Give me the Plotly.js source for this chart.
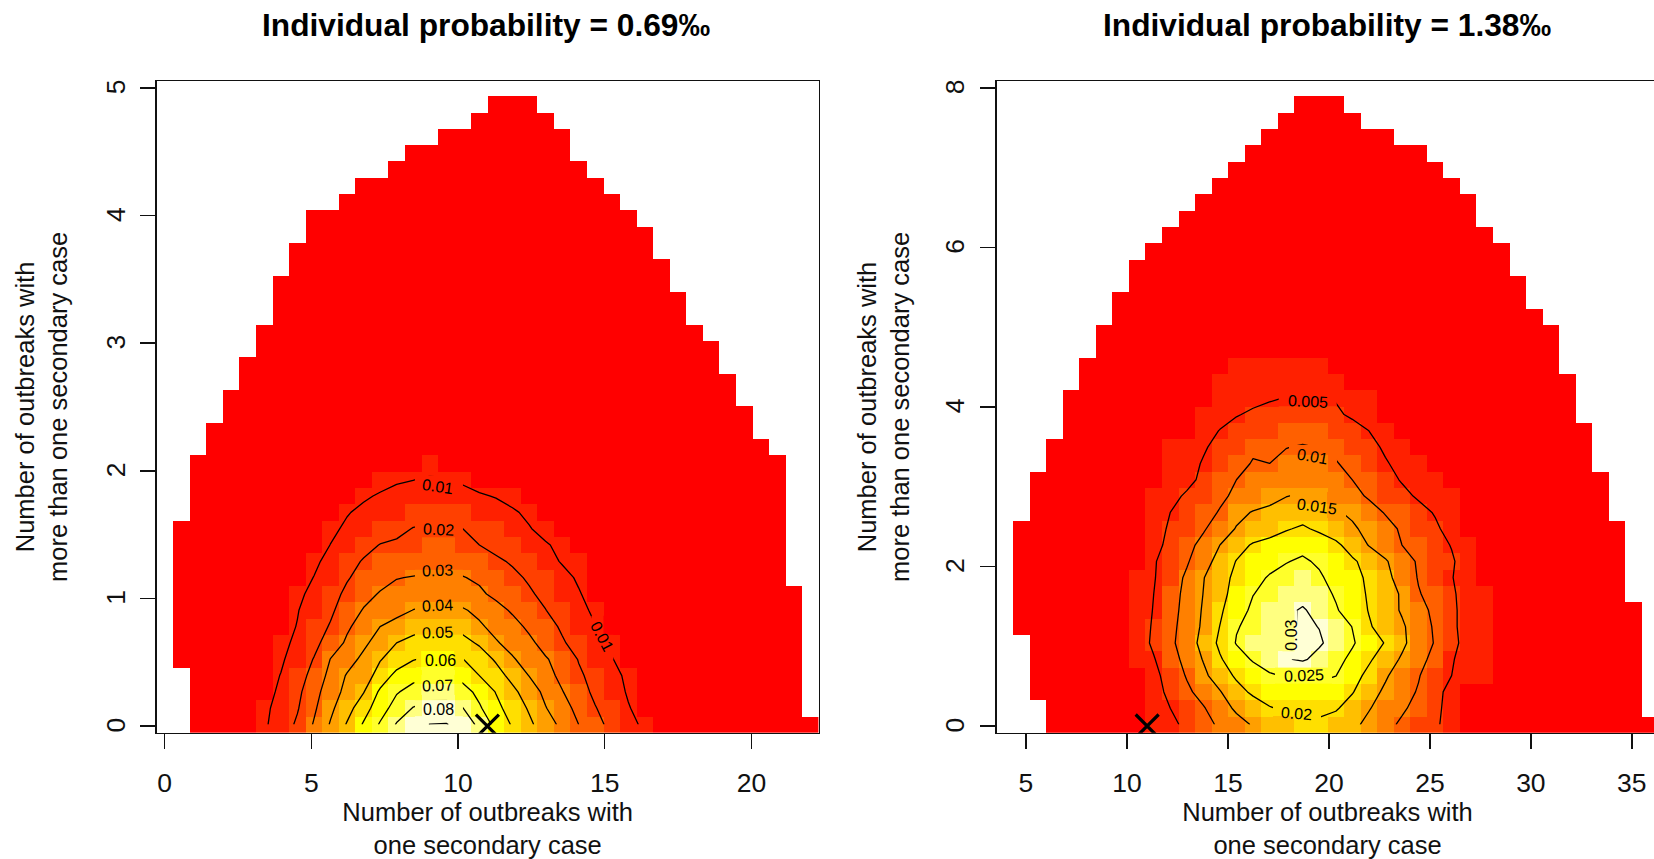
<!DOCTYPE html>
<html><head><meta charset="utf-8">
<script src="https://cdn.plot.ly/plotly-3.0.1.min.js"></script>
<style>html,body{margin:0;padding:0;background:#fff;overflow:hidden;width:1654px;height:859px}#p{width:1660px;height:859px}</style>
</head><body><div id="p"></div>
<script>
// Panel titles and axis text
const titleLeft = "Individual probability = 0.69‰";
const titleRight = "Individual probability = 1.38‰";
const xTitle = "Number of outbreaks with<br>one secondary case";
const yTitle = "Number of outbreaks with<br>more than one secondary case";
const heatColors = ["#FF0000","#FF2000","#FF4000","#FF6000","#FF8000","#FF9F00","#FFBF00","#FFDF00","#FFFF00","#FFFF2A","#FFFF80","#FFFFD5"];

// Grid of 40 x 40 cells: first edge and cell size
const leftGrid  = {x0:-0.273, dx:0.56408, y0:-0.052, dy:0.12786};
const rightGrid = {x0:3.54,   dx:0.8195,  y0:-0.084, dy:0.20457};
const centres = (o,d)=>Array.from({length:40},(_,i)=>o+(i+0.5)*d);

// Filled columns in each row (row 0 = bottom)
const leftFirst = [2,2,2,2,1,1,1,1,1,1,1,1,1,2,2,2,2,3,3,4,4,5,5,6,6,7,7,7,8,8,9,9,11,12,14,15,17,19,20];
const leftLast  = [39,38,38,38,38,38,38,38,38,37,37,37,37,37,37,37,37,36,35,35,34,34,33,33,32,31,31,30,30,29,29,28,27,26,25,24,24,23,22];
const rightFirst = [3,3,2,2,2,2,1,1,1,1,1,1,1,2,2,2,3,3,4,4,4,5,5,6,6,7,7,8,8,9,10,11,12,13,14,15,16,17,18];
const rightLast  = [39,38,38,38,38,38,38,38,37,37,37,37,37,36,36,36,35,35,35,34,34,34,33,33,33,32,31,31,30,30,29,28,28,27,26,25,23,21,20];

// Probability values (x 0.001) where they rise above the low background: [first column, values...]
const leftCore = [
[6,8.6,14.7,21.5,30.8,40.8,50.8,61,71,80.8,86,90.2,90.5,86.5,77.6,67,59,52,44.9,37.5,30,23,17.4,12.3,8.5,6],
[6,8,13.4,19.2,28.4,38,46.3,55.8,65.6,74.2,80.5,83,83,80.2,71.3,62.7,55.8,49,40.5,33.9,27.2,20.5,15.5,10.5,7,5],
[6,6.5,11.8,17.6,26.5,35.2,42.9,49.5,61.7,69.2,73.5,76.5,77,74,67.2,59.6,52.4,45.2,37.6,30.5,24,18,13.6,9.2,6.5],
[6,6,10.3,16,23,33,40.8,45,54,63,67,69,69,66.5,60,54,47,39.8,33.5,27.5,21.6,16.7,12.3,8.5,6],
[6,5.5,8.6,14.5,20.4,30.2,36,42.3,49.4,54.5,59.5,62,62,60.2,55,48.8,41,35.8,30.8,26.5,19.5,15,10.4,6.5],
[6,5,7.6,11.9,17.4,24.2,31.6,38,44.2,50,53,55.5,55.5,53,48.8,41,36.6,32,26.8,21,16.7,12.8,8.5,6],
[7,7.2,10.3,15.5,20.8,28.5,34.2,40,43.5,46.5,48.5,49,47,41.5,37,33,28.4,23.3,18.8,14.7,10.3,7.4],
[7,6.5,9.6,13.8,18.4,24.6,30.7,34,37,40.2,42,42,41,37.6,33,28.9,24.2,20.2,16.3,12.3,8.5,6.5],
[7,6,8,12.5,17,21.7,26.6,30.8,32.6,34.5,36,36,34.5,31.5,28,24.8,21.2,17.7,14.2,10.6,7,5.5],
[8,6.5,10.2,14.7,19.3,22.8,26.3,29.7,30.4,31,31,30.4,28.6,25.3,22,18.9,15.5,12.3,9,6.5],
[8,6,8.3,12.6,17,20.7,23,24.8,26,27,27.2,26,24,21.5,19,15.9,12.6,9.4,7.7,5],
[9,7,10.1,13.7,17.2,20.3,21.2,22,23,23,22,20,17.5,15.2,13,10.6,8.5,6.5],
[9,6.5,8.7,11,13.4,15.8,18,20.3,20.8,20.8,20,17.7,15.2,12.8,10.4,8,6.5],
[10,6.5,9.6,11.3,13,15,16.5,17.5,17.5,16,14.6,12.7,10.8,8.8,7],
[11,7,9.2,10.6,11.8,13,14,14,12.5,10.8,9.6,8,7],
[12,7,8,9.3,9.9,10.6,10.4,8.8,7],
[15,7,7.8,7]
];
// Probability values (x 0.0001)
const rightCore = [
[8,22,30,38,61,85.5,107,133,154,172,185,190,190,178,161,138,114,92,75,58,30,22],
[8,20,30,50,73,96,129,158,177,197,207,213,213,205,180,153,130,107,85,63,30,22],
[8,20,36,59,90,119,147,184,208,222,233,238,236,225,203,170,141,118,96,69,30,22],
[8,20,38,68,104,139,176,207,225,244,254,261,259,251,219,187,156,125,103,72,50,35,28],
[8,27,47,80,115,153,195,228,255,277,297,305,288,265,239,207,175,144,115,86,53,35,28],
[8,27,58,89,126,165,210,253,270,280,290,315,305,285,255,226,197,160,125,97,59,38,28],
[8,27,55,86,121,158,201,247,262,275,289,307,299,275,249,205,180,157,124,94,57,36,28],
[8,27,52,82,117,155,192,232,258,274,290,305,284,255,226,198,172,145,115,90,57,36,28],
[8,27,50,80,113,151,185,218,249,262,272,284,268,245,220,195,170,145,103,84,55,36,28],
[8,27,47,75,108,148,182,211,233,255,263,270,256,235,215,192,164,130,97,75,52,30],
[8,24,46,70,95,130,168,202,217,232,248,256,244,226,207,183,155,123,94,74,55,30],
[9,37,61,86,114,150,181,205,215,227,238,228,210,180,148,125,100,83,65,48,30],
[9,35,55,76,95,124,153,167,181,196,207,191,174,157,137,115,94,75,57,35],
[9,33,50,68,85,103,137,153,160,168,178,168,155,142,118,97,80,63,47,30],
[9,30,40,55,74,92,108,122,136,149,155,147,132,113,95,78,60,45,35,28],
[10,30,40,58,80,100,112,122,128,132,125,113,100,82,63,47,38,30],
[10,30,37,53,70,86,103,100,110,118,112,103,87,70,53,40,30],
[10,29,35,46,61,77,93,85,99,103,99,90,75,60,45,32],
[11,25,40,51,62,70,75,80,85,80,72,62,50,33],
[12,30,40,48,55,60,65,68,63,55,45,30],
[13,30,36,42,47,51,52,51,48,38,28],
[13,30,33,37,38,40,40,38,32],
[14,27,28,29,30,30,28]
];
const leftLow = 0.004, rightLow = 0.0015;
const observedX = [11], observedY = [0];
const leftMax = 0.0905, rightMax = 0.032;

// Contour labels: text, x, y, angle
const leftLabels = [
 ["0.01",9.29,1.873,8],["0.02",9.33,1.539,3],["0.03",9.31,1.215,-2],["0.04",9.31,0.941,-3],
 ["0.05",9.31,0.730,-2],["0.06",9.39,0.516,0],["0.07",9.31,0.321,-2],["0.08",9.33,0.131,0],["0.01",14.90,0.699,62]];
const rightLabels = [
 ["0.005",18.95,4.069,3],["0.01",19.19,3.384,10],["0.015",19.42,2.758,8],["0.02",18.37,0.159,5],["0.025",18.78,0.638,-2],["0.03",18.15,1.139,-90]];
// Breaks left in the contour lines around the labels: centre x, centre y, half width, half height
const leftBreaks = [
 [9.35,1.875,0.82,0.09],[9.35,1.54,0.82,0.08],[9.35,1.215,0.82,0.08],[9.35,0.94,0.82,0.08],
 [9.35,0.73,0.82,0.08],[9.39,0.516,0.82,0.08],[9.33,0.321,0.82,0.08],[9.35,0.131,0.82,0.08],[14.92,0.692,0.375,0.172]];
const rightBreaks = [
 [18.95,4.072,1.436,0.125],[19.21,3.387,1.188,0.138],[19.46,2.771,1.386,0.163],[18.42,0.163,1.188,0.138],[18.74,0.638,1.41,0.119],[18.07,1.143,0.371,0.307]];

function grid(first,last,core,low,unit){
  const z=[];
  for(let r=0;r<40;r++){
    const row=new Array(40).fill(null);
    if(r<first.length){
      for(let c=first[r];c<=last[r];c++) row[c]=low;
      if(core[r]){ const s=core[r][0]; for(let k=1;k<core[r].length;k++){const c=s+k-1; if(row[c]!==null) row[c]=core[r][k]*unit;} }
    }
    z.push(row);
  }
  return z;
}
const zLeft = grid(leftFirst,leftLast,leftCore,leftLow,0.001);
const zRight = grid(rightFirst,rightLast,rightCore,rightLow,0.0001);

const scale=[]; heatColors.forEach((c,i)=>{scale.push([i/12,c]);scale.push([(i+1)/12,c]);});
const W=1660,H=859;
const family='"Liberation Sans",Arial,sans-serif';

// a patch of the same image, redrawn above the contour line to open the label's break
function breakTrace(b,z,g,zmax,xa,ya){
  const [cx,cy,hw,hh]=b, x0=cx-hw,x1=cx+hw,y0=cy-hh,y1=cy+hh;
  const ci0=Math.floor((x0-g.x0)/g.dx), ci1=Math.floor((x1-g.x0)/g.dx);
  const ri0=Math.floor((y0-g.y0)/g.dy), ri1=Math.floor((y1-g.y0)/g.dy);
  const xe=[x0],ye=[y0],zz=[];
  for(let i=ci0+1;i<=ci1;i++) xe.push(g.x0+i*g.dx); xe.push(x1);
  for(let r=ri0+1;r<=ri1;r++) ye.push(g.y0+r*g.dy); ye.push(y1);
  for(let r=ri0;r<=ri1;r++){const row=[];for(let i=ci0;i<=ci1;i++)row.push(z[r][i]);zz.push(row);}
  return {type:'heatmap',x:xe,y:ye,z:zz,xaxis:xa,yaxis:ya,zmin:0,zmax:zmax,colorscale:scale,showscale:false,hoverinfo:'skip',zsmooth:false};
}
function panel(xa,ya,oxa,oya,g,z,zmax,cfg,breaks){
  return [
   {type:'heatmap',x:centres(g.x0,g.dx),y:centres(g.y0,g.dy),z:z,xaxis:xa,yaxis:ya,zmin:0,zmax:zmax,colorscale:scale,showscale:false,hoverinfo:'skip',zsmooth:false},
   {type:'contour',x:centres(g.x0,g.dx),y:centres(g.y0,g.dy),z:z,xaxis:xa,yaxis:ya,autocontour:false,showscale:false,hoverinfo:'skip',connectgaps:false,
    contours:{coloring:'none',start:cfg[0],end:cfg[1],size:cfg[2],showlabels:false},
    line:{color:'#000',width:1.3,smoothing:0}},
   ...breaks.map(b=>breakTrace(b,z,g,zmax,oxa,oya)),
   {type:'scatter',mode:'markers',x:observedX,y:observedY,xaxis:oxa,yaxis:oya,hoverinfo:'skip',
    marker:{symbol:'x-thin',size:23,color:'#000',line:{color:'#000',width:3.2}}}
  ];
}
const data=[...panel('x','y','x3','y3',leftGrid,zLeft,leftMax,[0.01,0.09,0.01],leftBreaks),
            ...panel('x2','y2','x4','y4',rightGrid,zRight,rightMax,[0.005,0.03,0.005],rightBreaks)];
const tickFont={family:family,size:26.5,color:'#111'};
const titleFont={family:family,size:25.5,color:'#111'};
const ax={showgrid:false,zeroline:false,showline:true,mirror:true,linecolor:'#111',linewidth:1.5,ticks:'outside',ticklen:15,tickwidth:1.5,tickcolor:'#111',tickfont:tickFont,automargin:false,layer:'above traces'};
function xax(dom,range,vals){return Object.assign({},ax,{domain:dom,range:range,tickmode:'array',tickvals:vals,ticktext:vals.map(String),ticklabelstandoff:11,tickangle:0,
   title:{text:xTitle,font:titleFont,standoff:2}});}
function yax(dom,range,vals,so){return Object.assign({},ax,{domain:dom,range:range,tickmode:'array',tickvals:vals,ticktext:vals.map(String),tickangle:-90,ticklabelstandoff:5,ticklabelshift:3,
   title:{text:yTitle,font:titleFont,standoff:so}});}
const yd=[1-732.7/H,1-81.2/H];
const lx=[-0.273,22.29], ly=[-0.052,5.052], rx=[3.54,36.32], ry=[-0.084,8.084];
const over=(o,a,r)=>({overlaying:o,anchor:a,range:r,visible:false,showgrid:false,zeroline:false});
const lab=(rows,xr,yr)=>rows.map(l=>({text:l[0],x:l[1],y:l[2],xref:xr,yref:yr,textangle:l[3],showarrow:false,xanchor:'center',yanchor:'middle',font:{family:family,size:16,color:'#000'}}));
const layout={width:W,height:H,margin:{l:0,r:0,t:0,b:0},paper_bgcolor:'#fff',plot_bgcolor:'rgba(0,0,0,0)',showlegend:false,
 xaxis:Object.assign(xax([156.7/W,818.6/W],lx,[0,5,10,15,20]),{anchor:'y'}),
 yaxis:Object.assign(yax(yd,ly,[0,1,2,3,4,5],25),{anchor:'x'}),
 xaxis2:Object.assign(xax([996.5/W,1658.5/W],rx,[5,10,15,20,25,30,35]),{anchor:'y2'}),
 yaxis2:Object.assign(yax(yd,ry,[0,2,4,6,8],23),{anchor:'x2'}),
 xaxis3:over('x','y3',lx), yaxis3:over('y','x3',ly),
 xaxis4:over('x2','y4',rx), yaxis4:over('y2','x4',ry),
 annotations:[
  {text:titleLeft,xref:'paper',yref:'paper',x:486/W,y:1-25/H,xanchor:'center',yanchor:'middle',showarrow:false,font:{family:family,size:31.7,color:'#000',weight:700}},
  {text:titleRight,xref:'paper',yref:'paper',x:1327/W,y:1-25/H,xanchor:'center',yanchor:'middle',showarrow:false,font:{family:family,size:31.7,color:'#000',weight:700}},
  ...lab(leftLabels,'x','y'),...lab(rightLabels,'x2','y2')
 ]};
Plotly.newPlot('p',data,layout,{displayModeBar:false,staticPlot:true});
</script></body></html>
